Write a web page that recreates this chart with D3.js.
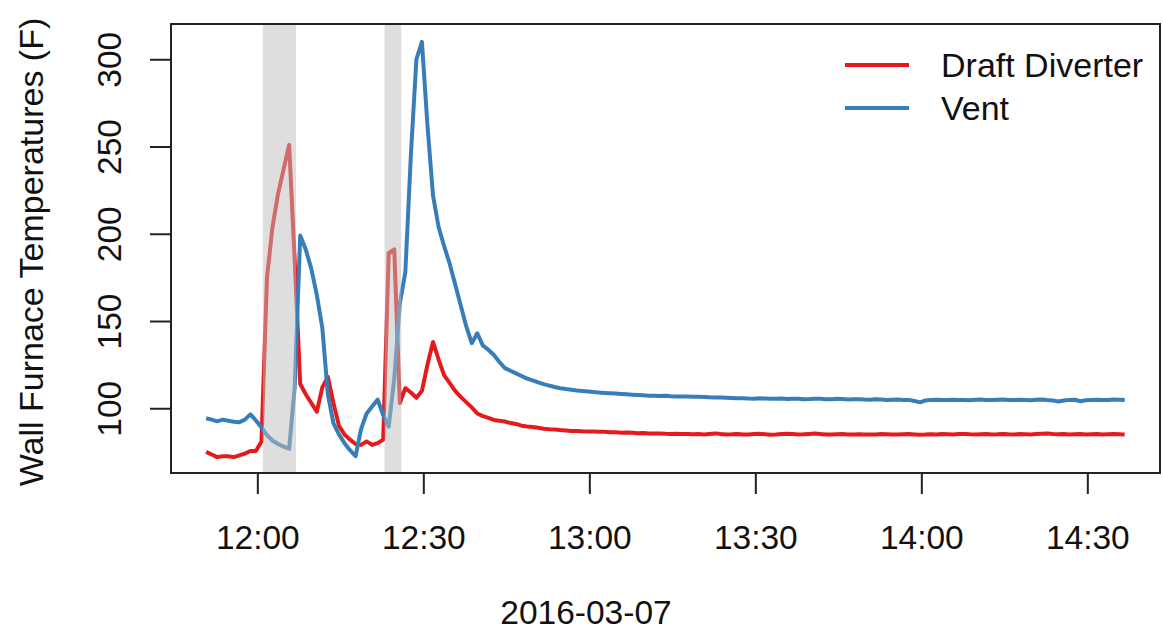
<!DOCTYPE html>
<html>
<head>
<meta charset="utf-8">
<script src="https://cdn.jsdelivr.net/npm/d3@7"></script>
<style>
  body { margin: 0; background: #fff; }
  text { font-family: "Liberation Sans", Arial, sans-serif; fill: #111; }
</style>
</head>
<body>
<div id="chart"></div>
<script>
// readings every minute from 11:50:45 on 2016-03-07
const startTime = new Date(2016, 2, 7, 11, 50, 45);

const draftDiverter = [
  75, 73.5, 72, 72.5, 72.5, 72, 73, 74, 75.5, 75.5,
  81, 175, 204, 223, 237, 251, 185, 114, 108, 103,
  98, 112, 118, 103, 90, 85, 82, 79.5, 79, 81,
  79, 80, 82, 189, 191, 103, 111.5, 109, 106, 110,
  125, 138, 128, 119, 114.5, 110, 106.5, 103.5, 100.5, 97,
  95.5, 94.5, 93.3, 92.8, 92.4, 91.5, 91, 90, 89.5, 89.2,
  88.8, 88.3, 88, 87.8, 87.5, 87.3, 87, 87, 86.8, 86.7,
  86.7, 86.6, 86.5, 86.3, 86.2, 86, 86.1, 85.9, 85.7, 85.8,
  85.6, 85.5, 85.6, 85.4, 85.3, 85.4, 85.2, 85.3, 85.1, 85.2,
  85.0, 85.3, 85.6, 85.2, 85.0, 85.1, 85.3, 85.0, 84.9, 85.2,
  85.4, 85.1, 84.8, 85.0, 85.3, 85.4, 85.2, 85.0, 85.1, 85.3,
  85.5, 85.2, 85.0, 84.9, 85.1, 85.2, 85.0, 84.9, 85.1, 85.0,
  84.9, 85.0, 85.2, 85.1, 84.9, 85.0, 85.1, 85.2, 85.0, 84.8,
  84.9, 85.1, 85.0, 85.2, 85.1, 85.0, 85.2, 85.3, 85.1, 85.0,
  85.1, 85.2, 85.0, 85.1, 85.3, 85.1, 85.0, 85.2, 85.1, 85.0,
  85.2, 85.4, 85.6, 85.3, 85.1, 85.2, 85.0, 85.1, 85.2, 85.0,
  85.1, 85.2, 85.0, 85.1, 85.2, 85.1, 85.0
];

const vent = [
  94.3, 93.5, 92.5, 93.5, 92.8, 92.3, 92, 93.5, 96.5, 93,
  89, 84.5, 81.5, 79.5, 78, 76.8, 112, 199, 191, 180,
  165, 146, 108, 91.5, 85, 80, 76, 72.5, 88, 97,
  101, 105, 96, 89.5, 117, 160, 178, 245, 300, 310,
  262, 222, 204, 193, 183, 171, 159, 147, 137.3, 143,
  136, 133.5, 130.5, 126.5, 123, 121.5, 120, 118.5, 117, 116,
  114.8, 113.8, 113, 112.2, 111.5, 111, 110.6, 110.2, 109.9, 109.6,
  109.3, 109, 108.8, 108.6, 108.4, 108.2, 108, 107.8, 107.6, 107.4,
  107.2, 107.1, 107.0, 107.1, 106.9, 106.8, 106.8, 106.7, 106.6, 106.6,
  106.5, 106.3, 106.2, 106.1, 106.0, 105.9, 105.7, 105.8, 105.6, 105.5,
  105.7, 105.6, 105.4, 105.5, 105.6, 105.3, 105.4, 105.5, 105.2, 105.3,
  105.5, 105.4, 105.1, 105.2, 105.4, 105.3, 105.0, 105.1, 105.2, 105.0,
  104.9, 105.1, 105.0, 104.8, 104.9, 105.0, 104.7, 104.8, 104.2, 103.4,
  104.5, 104.8, 104.9, 104.7, 104.8, 104.9, 104.7, 104.8, 104.6, 104.9,
  105.0, 104.8, 104.7, 104.9, 105.0, 104.8, 104.7, 104.9, 104.8, 104.6,
  104.9, 105.0, 104.7, 104.5, 103.9, 104.4, 104.8, 104.9, 104.0, 104.6,
  104.8, 104.9, 104.7, 104.8, 105.0, 104.9, 104.8
];

// shaded periods [start, end] as "HH:MM"
const bands = [["12:01", "12:07"], ["12:23", "12:26"]];

const xTickLabels = ["12:00", "12:30", "13:00", "13:30", "14:00", "14:30"];
const yTicks = [100, 150, 200, 250, 300];
const seriesNames = ["Draft Diverter", "Vent"];
const colors = ["#e41a1c", "#377eb8"];

const W = 1163, H = 639;
const plot = {left: 171, right: 1160, top: 24, bottom: 473};

const parseHM = (s) => {
  const [h, m] = s.split(":").map(Number);
  return new Date(2016, 2, 7, h, m, 0);
};

const times = draftDiverter.map((d, i) => d3.timeMinute.offset(startTime, i));

const svg = d3.select("#chart").append("svg")
  .attr("width", W).attr("height", H);

const x = d3.scaleTime()
  .domain([new Date(2016, 2, 7, 11, 44, 24), new Date(2016, 2, 7, 14, 43, 8)])
  .range([plot.left, plot.right]);
const y = d3.scaleLinear()
  .domain([62.9, 320.2])
  .range([plot.bottom, plot.top]);

// lines
const line = d3.line()
  .x((d) => x(d.t))
  .y((d) => y(d.v));

[draftDiverter, vent].forEach((vals, k) => {
  svg.append("path")
    .datum(vals.map((v, i) => ({t: times[i], v: v})))
    .attr("d", line)
    .attr("fill", "none")
    .attr("stroke", colors[k])
    .attr("stroke-width", 4)
    .attr("stroke-linejoin", "round");
});

// grey shaded periods drawn over the lines
svg.append("g").selectAll("rect")
  .data(bands)
  .join("rect")
  .attr("x", (d) => x(parseHM(d[0])))
  .attr("width", (d) => x(parseHM(d[1])) - x(parseHM(d[0])))
  .attr("y", plot.top)
  .attr("height", plot.bottom - plot.top)
  .attr("fill", "#bdbdbd")
  .attr("fill-opacity", 0.5);

// frame
svg.append("rect")
  .attr("x", plot.left).attr("y", plot.top)
  .attr("width", plot.right - plot.left)
  .attr("height", plot.bottom - plot.top)
  .attr("fill", "none")
  .attr("stroke", "#222")
  .attr("stroke-width", 2);

// x axis
const xAxis = d3.axisBottom(x)
  .tickValues(xTickLabels.map(parseHM))
  .tickFormat(d3.timeFormat("%H:%M"))
  .tickSize(21);
const gx = svg.append("g")
  .attr("transform", `translate(0,${plot.bottom})`)
  .call(xAxis);
gx.select(".domain").remove();
gx.selectAll(".tick line").attr("stroke", "#222").attr("stroke-width", 2);
gx.selectAll(".tick text")
  .attr("font-size", 33.5)
  .attr("fill", "#111")
  .attr("font-family", "Liberation Sans, Arial, sans-serif")
  .attr("dy", null)
  .attr("y", 76);

// y axis
const yAxis = d3.axisLeft(y)
  .tickValues(yTicks)
  .tickSize(21);
const gy = svg.append("g")
  .attr("transform", `translate(${plot.left},0)`)
  .call(yAxis);
gy.select(".domain").remove();
gy.selectAll(".tick line").attr("stroke", "#222").attr("stroke-width", 2);
gy.selectAll(".tick text")
  .attr("font-size", 33.5)
  .attr("fill", "#111")
  .attr("font-family", "Liberation Sans, Arial, sans-serif")
  .attr("x", null).attr("dy", null)
  .attr("text-anchor", "middle")
  .attr("transform", "translate(-50,0) rotate(-90)");

// axis titles
svg.append("text")
  .attr("transform", "translate(43,252) rotate(-90)")
  .attr("text-anchor", "middle")
  .attr("font-size", 34)
  .text("Wall Furnace Temperatures (F)");

svg.append("text")
  .attr("x", 586).attr("y", 624)
  .attr("text-anchor", "middle")
  .attr("font-size", 33.5)
  .text("2016-03-07");

// legend
const legend = svg.append("g");
seriesNames.forEach((name, k) => {
  const ly = 65 + k * 43;
  legend.append("line")
    .attr("x1", 845).attr("x2", 909)
    .attr("y1", ly).attr("y2", ly)
    .attr("stroke", colors[k])
    .attr("stroke-width", 4);
  legend.append("text")
    .attr("x", 941).attr("y", ly + 12)
    .attr("font-size", 34)
    .text(name);
});
</script>
</body>
</html>
